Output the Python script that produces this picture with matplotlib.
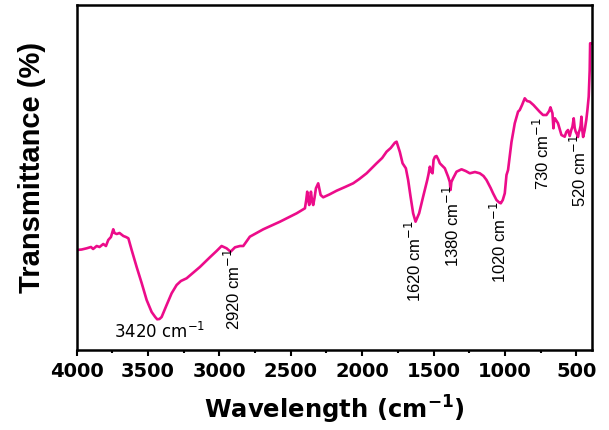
import matplotlib
matplotlib.use("Agg")
import matplotlib.pyplot as plt
from matplotlib.ticker import MultipleLocator

# ---- data (wavenumber in cm-1, transmittance in arbitrary %) ----
wavenumber = [4000, 3965, 3930, 3900, 3885, 3860, 3840, 3814, 3795, 3779, 3760, 3744, 3735,
              3720, 3700, 3673, 3655, 3638, 3615, 3580, 3545, 3510, 3475, 3450, 3436, 3420,
              3405, 3370, 3335, 3300, 3270, 3230, 3137, 3067, 3020, 2985, 2950, 2922, 2891,
              2856, 2833, 2787, 2740, 2693, 2576, 2459, 2401, 2392, 2385, 2378, 2371, 2365,
              2359, 2350, 2343, 2334, 2324, 2308, 2291, 2273, 2230, 2179, 2120, 2063, 2020,
              1969, 1899, 1860, 1829, 1800, 1771, 1759, 1748, 1736, 1717, 1694, 1678, 1661,
              1643, 1626, 1601, 1573, 1544, 1535, 1526, 1515, 1507, 1500, 1490, 1479, 1465,
              1456, 1421, 1398, 1386, 1381, 1375, 1363, 1339, 1304, 1275, 1246, 1210, 1176,
              1150, 1129, 1100, 1083, 1059, 1040, 1029, 1015, 1001, 989, 978, 954, 931, 908,
              896, 880, 861, 845, 826, 800, 779, 755, 733, 709, 690, 681, 667, 660, 655, 650,
              628, 604, 581, 570, 558, 546, 535, 527, 518, 511, 504, 496, 488, 482, 476, 470,
              464, 458, 452, 446, 441, 430, 422, 413, 406, 403, 400]
transmittance = [100, 100.5, 101.7, 103, 101, 104, 103, 106, 104, 110, 113, 120.7, 117,
                 116, 117, 114, 113, 111.7, 100, 83, 67, 50, 38, 33, 30.7, 31,
                 33, 45, 56.7, 65, 69, 71.7, 83, 92.7, 99, 104, 101.7, 98.3, 102.7,
                 104, 104, 113.3, 117, 120.7, 128.3, 136.7, 141.7, 150, 158.3, 150, 145, 152,
                 158.3, 148, 145, 152, 161.7, 166.7, 155, 152.7, 155.5, 159.3, 163, 166.7, 171,
                 176.7, 186.7, 192, 198.3, 202, 207.3, 208.3, 203.3, 198, 186.7, 181.7, 170, 153.3,
                 136.7, 128.3, 136.7, 153.3, 170, 176, 183.3, 178, 176.7, 190, 193.3, 194, 190,
                 186.7, 181.7, 173.3, 168, 160, 168, 171.7, 178.3, 180.7, 179, 176.7, 178, 176.7,
                 174, 170, 162, 156.7, 150, 147.5, 146.7, 150, 156.7, 175, 180, 208, 226.7, 238.3,
                 240, 245, 251.7, 249, 248.3, 245, 241.7, 238, 235, 235, 239, 242.7, 236.7, 221.7, 230, 231.7,
                 226.7, 215, 213.3, 218, 220, 214, 220, 223.3, 231.7, 222, 218.3, 216, 213, 218, 220, 224,
                 233.3, 220, 213, 217, 220, 230, 240, 253.3, 280, 306.7, 306.7]

x_ticks = [4000, 3500, 3000, 2500, 2000, 1500, 1000, 500]
x_tick_labels = ["4000", "3500", "3000", "2500", "2000", "1500", "1000", "500"]

# peak annotations: label, wavenumber position, transmittance position (bottom of text)
peak_labels = ["2920 cm$^{-1}$", "1620 cm$^{-1}$", "1380 cm$^{-1}$",
               "1020 cm$^{-1}$", "730 cm$^{-1}$", "520 cm$^{-1}$"]
peak_label_x = [2904, 1637, 1368, 1043, 738, 479]
peak_label_y = [20, 48, 83, 67, 160, 143]
main_label = "3420 cm$^{-1}$"
main_label_x = 3419
main_label_y = 18.3

LINE = "#ec0c8a"

fig = plt.figure(figsize=(6.09, 4.30), dpi=100)
ax = fig.add_axes([76.7 / 609, (430 - 350) / 430, 515 / 609, 345.5 / 430])

ax.plot(wavenumber, transmittance, color=LINE, lw=1.9, solid_joinstyle="round")

ax.set_xlim(4000, 392)
ax.set_ylim(0, 345.5)

ax.set_xticks(x_ticks)
ax.set_xticklabels(x_tick_labels)
ax.xaxis.set_minor_locator(MultipleLocator(250))
ax.set_yticks([])
ax.tick_params(axis="x", which="major", direction="out", length=4.5, width=1.5, pad=4,
               labelsize=14)
ax.tick_params(axis="x", which="minor", direction="out", length=2.3, width=1.5)
for lab in ax.get_xticklabels():
    lab.set_fontweight("bold")
    lab.set_family("DejaVu Sans")

for sp in ax.spines.values():
    sp.set_linewidth(1.8)
    sp.set_color("black")

ax.set_xlabel(r"Wavelength (cm$^{\mathbf{-1}}$)", family="DejaVu Sans", fontweight="bold",
              fontsize=17.5, labelpad=9)
ax.set_ylabel("Transmittance (%)", family=["Liberation Sans", "DejaVu Sans"],
              fontweight="bold", fontsize=21, va="center")
ax.yaxis.set_label_coords(-0.087, 0.527)

ax.text(main_label_x, main_label_y, main_label, family="DejaVu Sans", fontsize=12,
        ha="center", va="center")
for lab, xx, yy in zip(peak_labels, peak_label_x, peak_label_y):
    ax.text(xx, yy, lab, family=["Liberation Sans", "DejaVu Sans"], fontsize=12,
            rotation=90, ha="center", va="bottom")

fig.savefig("out.png", dpi=100)
